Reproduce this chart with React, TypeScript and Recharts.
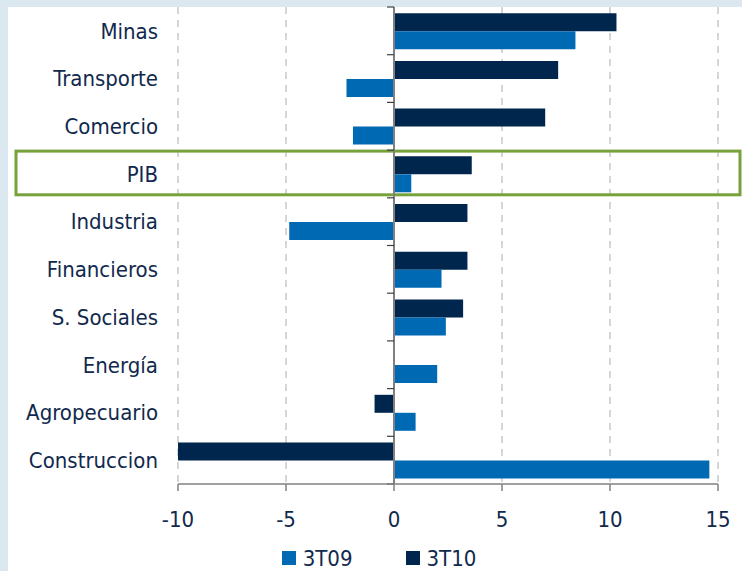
import { BarChart, Bar, XAxis, YAxis, CartesianGrid, ReferenceLine, ReferenceArea, Legend } from "recharts"

const categories = ["Minas", "Transporte", "Comercio", "PIB", "Industria", "Financieros", "S. Sociales", "Energía", "Agropecuario", "Construccion"]
const serie3T09 = [8.4, -2.2, -1.9, 0.8, -4.85, 2.2, 2.4, 2.0, 1.0, 14.6]
const serie3T10 = [10.3, 7.6, 7.0, 3.6, 3.4, 3.4, 3.2, 0, -0.9, -10.1]
const xTicks = [-10, -5, 0, 5, 10, 15]
const highlighted = "PIB"

const data = categories.map((name, i) => ({ name, t09: serie3T09[i], t10: serie3T10[i] }))

const font = "'DejaVu Sans Condensed', 'DejaVu Sans', sans-serif"
const textColor = "#11294d"
const c09 = "#0069b4"
const c10 = "#00264d"

// zero line with the little category ticks on its left side
const ZeroAxis = (props: any) => {
  const { x1, y1, x2, y2 } = props
  const n = categories.length
  const step = (y2 - y1) / n
  return (
    <g>
      <line x1={x1} y1={y1} x2={x2} y2={y2} stroke="#808080" strokeWidth={2} />
      {Array.from({ length: n + 1 }, (_, i) => (
        <line key={i} x1={x1 - 7} x2={x1} y1={y1 + i * step} y2={y1 + i * step} stroke="#404040" strokeWidth={1.2} />
      ))}
    </g>
  )
}

const HighlightBox = (props: any) => {
  const { y, height } = props
  return <rect x={16} y={y + 1} width={724} height={height - 4} fill="none" stroke="#76a13b" strokeWidth={3} />
}

const LegendBox = () => {
  const items = [
    { label: "3T09", color: c09 },
    { label: "3T10", color: c10 },
  ]
  return (
    <div style={{ display: "flex", justifyContent: "center", alignItems: "center", height: 30, paddingLeft: 40, paddingTop: 4, boxSizing: "border-box", fontFamily: font, fontStretch: "condensed", fontSize: 22, color: textColor }}>
      {items.map((it, i) => (
        <div key={it.label} style={{ display: "flex", alignItems: "center", marginRight: i === 0 ? 53 : 0 }}>
          <span style={{ width: 14, height: 14, background: it.color, marginRight: 7, display: "inline-block" }} />
          <span>{it.label}</span>
        </div>
      ))}
    </div>
  )
}

export default function App() {
  return (
    <div style={{ position: "relative", width: 742, height: 571, background: "#dce8f0", fontStretch: "condensed" }}>
      <style>{"body{margin:0}"}</style>
      <div style={{ position: "absolute", left: 8, top: 7, right: 0, bottom: 0, background: "#fff" }} />
      <div style={{ position: "absolute", left: 0, top: 0 }}>
        <BarChart
          width={742}
          height={571}
          data={data}
          layout="vertical"
          margin={{ top: 7, right: 24, left: 0, bottom: 0 }}
          barCategoryGap="13%"
          barGap={0}
        >
          <CartesianGrid horizontal={false} stroke="#c8c8c8" strokeWidth={1.5} strokeDasharray="7 6" />
          <XAxis
            type="number"
            domain={[-10, 15]}
            ticks={xTicks}
            allowDataOverflow
            height={57}
            stroke="#808080"
            strokeWidth={1.5}
            tickSize={7}
            tickMargin={20}
            tick={{ fill: textColor, fontSize: 22, fontFamily: font }}
          />
          <YAxis
            type="category"
            dataKey="name"
            width={178}
            axisLine={false}
            tickLine={false}
            tickSize={0}
            tickMargin={20}
            interval={0}
            tick={{ fill: textColor, fontSize: 22, fontFamily: font }}
          />
          <Bar dataKey="t10" name="3T10" fill={c10} isAnimationActive={false} />
          <Bar dataKey="t09" name="3T09" fill={c09} isAnimationActive={false} />
          <ReferenceLine x={0} shape={ZeroAxis} ifOverflow="visible" />
          <ReferenceArea y1={highlighted} y2={highlighted} ifOverflow="visible" shape={HighlightBox} />
          <Legend verticalAlign="bottom" height={30} content={() => <LegendBox />} />
        </BarChart>
      </div>
    </div>
  )
}
